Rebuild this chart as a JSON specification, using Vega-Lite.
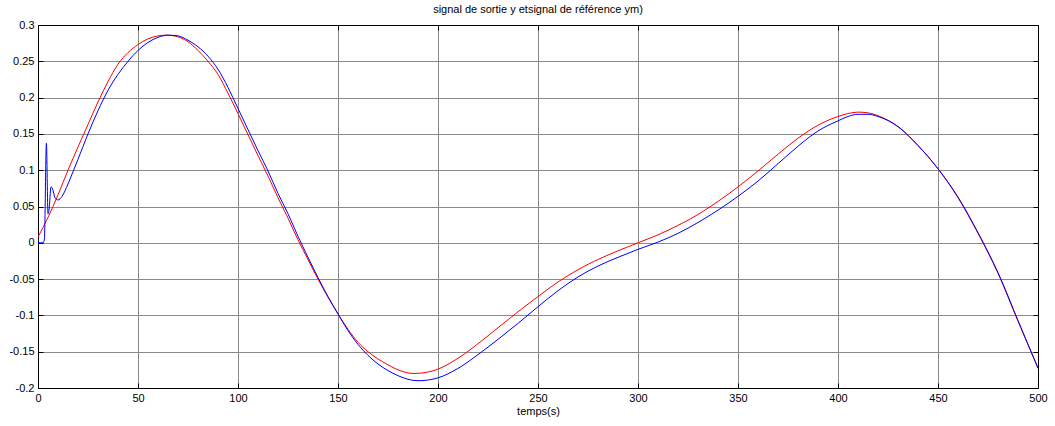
{
  "$schema": "https://vega.github.io/schema/vega-lite/v6.json",
  "autosize": {"type": "none"},
  "padding": {"left": 38, "top": 25, "right": 17, "bottom": 38},
  "width": 1000,
  "height": 363,
  "background": "white",
  "config": {
    "font": "Liberation Sans",
    "view": {"stroke": "black", "strokeWidth": 1},
    "axis": {"labelFont": "Liberation Sans", "labelFontSize": 11, "labelColor": "black", "titleFont": "Liberation Sans", "titleFontSize": 11, "titleFontWeight": "normal", "titleColor": "black"}
  },
  "title": {"text": "signal de sortie y etsignal de référence ym)", "fontSize": 11, "fontWeight": "normal", "font": "Liberation Sans", "color": "black", "offset": 4},
  "datasets": {
    "ym": [
      {"t": 0, "v": 0.008}, {"t": 5, "v": 0.035}, {"t": 10, "v": 0.066}, {"t": 15, "v": 0.1}, {"t": 20, "v": 0.132}, {"t": 25, "v": 0.163}, {"t": 30, "v": 0.194}, {"t": 35, "v": 0.222}, {"t": 40, "v": 0.246}, {"t": 45, "v": 0.262}, {"t": 50, "v": 0.273}, {"t": 55, "v": 0.281}, {"t": 60, "v": 0.285}, {"t": 64, "v": 0.286}, {"t": 68, "v": 0.285}, {"t": 75, "v": 0.277}, {"t": 80, "v": 0.265}, {"t": 85, "v": 0.25}, {"t": 90, "v": 0.232}, {"t": 95, "v": 0.206}, {"t": 100, "v": 0.178}, {"t": 105, "v": 0.149}, {"t": 110, "v": 0.12}, {"t": 115, "v": 0.092}, {"t": 120, "v": 0.062}, {"t": 125, "v": 0.034}, {"t": 130, "v": 0.004}, {"t": 135, "v": -0.023}, {"t": 140, "v": -0.05}, {"t": 145, "v": -0.075}, {"t": 150, "v": -0.098}, {"t": 155, "v": -0.119}, {"t": 160, "v": -0.137}, {"t": 165, "v": -0.15}, {"t": 170, "v": -0.16}, {"t": 175, "v": -0.168}, {"t": 180, "v": -0.175}, {"t": 188, "v": -0.18}, {"t": 195, "v": -0.178}, {"t": 200, "v": -0.174}, {"t": 210, "v": -0.159}, {"t": 220, "v": -0.139}, {"t": 230, "v": -0.117}, {"t": 240, "v": -0.095}, {"t": 250, "v": -0.074}, {"t": 260, "v": -0.054}, {"t": 270, "v": -0.037}, {"t": 280, "v": -0.023}, {"t": 290, "v": -0.011}, {"t": 300, "v": 0.0}, {"t": 310, "v": 0.011}, {"t": 320, "v": 0.024}, {"t": 330, "v": 0.039}, {"t": 340, "v": 0.057}, {"t": 350, "v": 0.077}, {"t": 360, "v": 0.099}, {"t": 370, "v": 0.122}, {"t": 380, "v": 0.144}, {"t": 390, "v": 0.162}, {"t": 400, "v": 0.174}, {"t": 405, "v": 0.178}, {"t": 410, "v": 0.18}, {"t": 415, "v": 0.179}, {"t": 420, "v": 0.175}, {"t": 430, "v": 0.16}, {"t": 440, "v": 0.134}, {"t": 450, "v": 0.102}, {"t": 460, "v": 0.062}, {"t": 470, "v": 0.013}, {"t": 480, "v": -0.042}, {"t": 490, "v": -0.108}, {"t": 500, "v": -0.172}
    ],
    "y": [
      {"t": 0, "v": 0}, {"t": 2.5, "v": 0}, {"t": 3.2, "v": 0.005}, {"t": 4.2, "v": 0.137}, {"t": 5, "v": 0.04}, {"t": 5.5, "v": 0.045}, {"t": 6.5, "v": 0.077}, {"t": 7.2, "v": 0.075}, {"t": 8.5, "v": 0.062}, {"t": 10, "v": 0.059}, {"t": 12, "v": 0.064}, {"t": 15, "v": 0.081}, {"t": 17.5, "v": 0.098}, {"t": 20, "v": 0.115}, {"t": 25, "v": 0.15}, {"t": 30, "v": 0.182}, {"t": 35, "v": 0.21}, {"t": 40, "v": 0.232}, {"t": 45, "v": 0.25}, {"t": 50, "v": 0.265}, {"t": 55, "v": 0.276}, {"t": 60, "v": 0.283}, {"t": 65, "v": 0.286}, {"t": 70, "v": 0.285}, {"t": 75, "v": 0.279}, {"t": 80, "v": 0.27}, {"t": 85, "v": 0.257}, {"t": 90, "v": 0.239}, {"t": 95, "v": 0.214}, {"t": 100, "v": 0.185}, {"t": 105, "v": 0.156}, {"t": 110, "v": 0.127}, {"t": 115, "v": 0.099}, {"t": 120, "v": 0.068}, {"t": 125, "v": 0.04}, {"t": 130, "v": 0.009}, {"t": 135, "v": -0.02}, {"t": 140, "v": -0.048}, {"t": 145, "v": -0.074}, {"t": 150, "v": -0.098}, {"t": 155, "v": -0.121}, {"t": 160, "v": -0.14}, {"t": 165, "v": -0.155}, {"t": 170, "v": -0.167}, {"t": 175, "v": -0.176}, {"t": 180, "v": -0.183}, {"t": 185, "v": -0.188}, {"t": 190, "v": -0.19}, {"t": 195, "v": -0.189}, {"t": 200, "v": -0.186}, {"t": 210, "v": -0.173}, {"t": 220, "v": -0.154}, {"t": 230, "v": -0.133}, {"t": 240, "v": -0.111}, {"t": 250, "v": -0.088}, {"t": 260, "v": -0.066}, {"t": 270, "v": -0.047}, {"t": 280, "v": -0.032}, {"t": 290, "v": -0.02}, {"t": 300, "v": -0.009}, {"t": 310, "v": 0.001}, {"t": 320, "v": 0.013}, {"t": 330, "v": 0.028}, {"t": 340, "v": 0.045}, {"t": 350, "v": 0.064}, {"t": 360, "v": 0.085}, {"t": 370, "v": 0.109}, {"t": 380, "v": 0.133}, {"t": 390, "v": 0.154}, {"t": 400, "v": 0.168}, {"t": 405, "v": 0.174}, {"t": 410, "v": 0.177}, {"t": 415, "v": 0.177}, {"t": 420, "v": 0.174}, {"t": 430, "v": 0.16}, {"t": 440, "v": 0.134}, {"t": 450, "v": 0.102}, {"t": 460, "v": 0.063}, {"t": 470, "v": 0.014}, {"t": 480, "v": -0.041}, {"t": 490, "v": -0.107}, {"t": 500, "v": -0.173}
    ]
  },
  "resolve": {"axis": {"x": "independent", "y": "independent"}},
  "layer": [
    {
      "data": {"name": "ym"},
      "mark": {"type": "line", "color": "#ff0000", "strokeWidth": 1, "interpolate": "monotone", "clip": true},
      "encoding": {
        "x": {"field": "t", "type": "quantitative", "scale": {"domain": [0, 500], "nice": false, "zero": false},
          "axis": {"orient": "bottom", "title": "temps(s)", "values": [0, 50, 100, 150, 200, 250, 300, 350, 400, 450, 500], "grid": true, "gridColor": "#8a8a8a", "gridWidth": 1, "gridOpacity": 1, "domainColor": "black", "tickColor": "black", "tickSize": -5, "labelPadding": 9, "labelFlush": false, "titlePadding": 2}},
        "y": {"field": "v", "type": "quantitative", "scale": {"domain": [-0.2, 0.3], "nice": false, "zero": false},
          "axis": {"orient": "left", "title": null, "values": [-0.2, -0.15, -0.1, -0.05, 0, 0.05, 0.1, 0.15, 0.2, 0.25, 0.3], "labelExpr": "'' + round(datum.value * 100) / 100", "grid": true, "gridColor": "#8a8a8a", "gridWidth": 1, "gridOpacity": 1, "domainColor": "black", "tickColor": "black", "tickSize": -5, "labelPadding": 9, "labelFlush": false}}
      }
    },
    {
      "data": {"name": "y"},
      "mark": {"type": "line", "color": "#0000ff", "strokeWidth": 1, "interpolate": "monotone", "clip": true},
      "encoding": {
        "x": {"field": "t", "type": "quantitative",
          "axis": {"orient": "top", "title": null, "labels": false, "values": [0, 50, 100, 150, 200, 250, 300, 350, 400, 450, 500], "grid": false, "domainColor": "black", "tickColor": "black", "tickSize": -5}},
        "y": {"field": "v", "type": "quantitative",
          "axis": {"orient": "right", "title": null, "labels": false, "values": [-0.2, -0.15, -0.1, -0.05, 0, 0.05, 0.1, 0.15, 0.2, 0.25, 0.3], "grid": false, "domainColor": "black", "tickColor": "black", "tickSize": -5}}
      }
    }
  ]
}
